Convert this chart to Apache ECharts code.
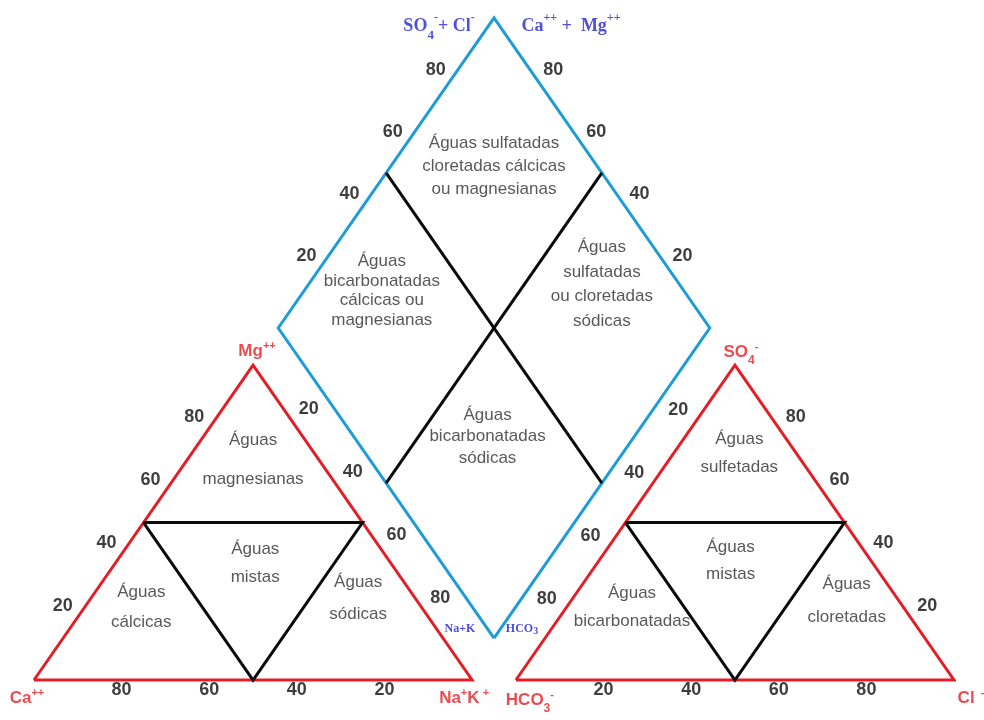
<!DOCTYPE html>
<html><head><meta charset="utf-8">
<script src="https://cdn.jsdelivr.net/npm/echarts@6/dist/echarts.min.js"></script>
<style>html,body{margin:0;padding:0;background:#fff}#c{width:984px;height:720px}</style>
</head><body><div id="c"></div>
<script>
// ================= DATA =================
const tickValues = [20, 40, 60, 80];
const classBoundary = 50; // % boundary of the classification fields

// Cation triangle field labels (ternary anchor: Ca, Mg, Na+K %)
const cationRegionNames = ['Águas\nmagnesianas', 'Águas\nmistas', 'Águas\ncálcicas', 'Águas\nsódicas'];
const cationRegionCa = [15, 31, 64, 13];
const cationRegionMg = [70, 37, 23, 26];
const cationRegionNa = [15, 32, 13, 61];

// Anion triangle field labels (ternary anchor: HCO3, SO4, Cl %)
const anionRegionNames = ['Águas\nsulfetadas', 'Águas\nmistas', 'Águas\nbicarbonatadas', 'Águas\ncloretadas'];
const anionRegionHCO3 = [13, 32, 62, 12];
const anionRegionSO4 = [72, 38, 23, 25];
const anionRegionCl = [15, 30, 15, 63];

// Diamond field labels (anchor: Ca+Mg %, SO4+Cl %)
const diamondRegionNames = [
  'Águas sulfatadas\ncloretadas cálcicas\nou magnesianas',
  'Águas\nbicarbonatadas\ncálcicas ou\nmagnesianas',
  'Águas\nsulfatadas\nou cloretadas\nsódicas',
  'Águas\nbicarbonatadas\nsódicas'
];
const diamondRegionCaMg = [76, 82, 32, 34];
const diamondRegionSO4Cl = [76, 30, 82, 31];

// Vertex names (rich text markup)
const cationVertexNames = ['{b|Ca}{sup|++}', '{b|Na}{sup|+}{b|K}{sup| +}', '{b|Mg}{sup|++}'];
const anionVertexNames = ['{b|HCO}{sub|3}{sup|-}', '{b|Cl}{sup|  -}', '{b|SO}{sub|4}{sup|-}'];
const diamondTopNames = ['{b|SO}{sub|4}{sup|-}{b|+ Cl}{sup|-}', '{b|Ca}{sup|++}{b| +  Mg}{sup|++}'];
const diamondBottomNames = ['{s|Na+K}', '{s|HCO}{ss|3}'];

// ================= GEOMETRY (layout) =================
const H = 50 * Math.sqrt(3);
const GAP = 10;
const D_BOTTOM = [105, 11.5];
const D_SCALE = 0.985;
function cat(ca, mg, na) { return [na + mg / 2, mg * H / 100]; }
function an(hco3, so4, cl) { return [100 + GAP + cl + so4 / 2, so4 * H / 100]; }
function dia(cm, sc) { return [D_BOTTOM[0] + (sc - cm) / 100 * 50 * D_SCALE, D_BOTTOM[1] + (cm + sc) / 100 * H * D_SCALE]; }

const RED = '#e41e26', BLUE = '#1e9bd9', BLACK = '#0a0a0a';
const B = classBoundary;

function lineSeries(points, color) {
  return { type: 'line', data: points, symbol: 'none', clip: false, silent: true, animation: false,
    lineStyle: { color: color, width: 3, join: 'miter' }, z: 2 };
}
function tickSeries(points, labels, offset) {
  return { type: 'scatter', symbolSize: 0, clip: false, silent: true, animation: false, z: 5,
    data: points.map((p, i) => ({ value: p, name: String(labels[i]) })),
    label: { show: true, position: 'inside', offset: offset, formatter: '{b}',
      fontFamily: 'Liberation Sans', fontWeight: 'bold', fontSize: 18, color: '#0d0d0d' } };
}
function regionSeries(points, names, lineHeights) {
  return { type: 'scatter', symbolSize: 0, clip: false, silent: true, animation: false, z: 5,
    data: points.map((p, i) => ({ value: p, name: names[i], label: { lineHeight: lineHeights[i] } })),
    label: { show: true, position: 'inside', formatter: '{b}', align: 'center',
      fontFamily: 'Liberation Sans', fontSize: 17, color: '#2e2e2e' } };
}
const redRich = {
  b: { fontFamily: 'Liberation Sans', fontWeight: 'bold', fontSize: 17, color: RED, lineHeight: 20, verticalAlign: 'bottom' },
  sup: { fontFamily: 'Liberation Sans', fontWeight: 'bold', fontSize: 11, color: RED, lineHeight: 20, verticalAlign: 'top' },
  sub: { fontFamily: 'Liberation Sans', fontWeight: 'bold', fontSize: 12, color: RED, lineHeight: 20, verticalAlign: 'bottom', padding: [0, 0, -6, 0] }
};
const blueRich = {
  b: { fontFamily: 'Liberation Serif', fontWeight: 'bold', fontSize: 18, color: '#2424d0', lineHeight: 24, verticalAlign: 'bottom' },
  sup: { fontFamily: 'Liberation Serif', fontWeight: 'bold', fontSize: 12, color: '#2424d0', lineHeight: 24, verticalAlign: 'top' },
  sub: { fontFamily: 'Liberation Serif', fontWeight: 'bold', fontSize: 13, color: '#2424d0', lineHeight: 24, verticalAlign: 'bottom', padding: [0, 0, -6, 0] },
  s: { fontFamily: 'Liberation Serif', fontWeight: 'bold', fontSize: 12, color: '#2020cc' },
  ss: { fontFamily: 'Liberation Serif', fontWeight: 'bold', fontSize: 10, color: '#2020cc', padding: [5, 0, 0, 0] }
};
function vertexSeries(points, names, offsets, rich) {
  return { type: 'scatter', symbolSize: 0, clip: false, silent: true, animation: false, z: 6,
    data: points.map((p, i) => ({ value: p, name: names[i], label: { offset: offsets[i] } })),
    label: { show: true, position: 'inside', formatter: '{b}', rich: rich } };
}

const series = [
  // outlines
  lineSeries([cat(100, 0, 0), cat(0, 0, 100), cat(0, 100, 0), cat(100, 0, 0)], RED),
  lineSeries([an(100, 0, 0), an(0, 0, 100), an(0, 100, 0), an(100, 0, 0)], RED),
  lineSeries([dia(0, 0), dia(100, 0), dia(100, 100), dia(0, 100), dia(0, 0)], BLUE),
  // classification lines
  lineSeries([cat(100 - B, B, 0), cat(0, B, 100 - B), cat(B, 0, 100 - B), cat(100 - B, B, 0)], BLACK),
  lineSeries([an(100 - B, B, 0), an(0, B, 100 - B), an(B, 0, 100 - B), an(100 - B, B, 0)], BLACK),
  lineSeries([dia(100, B), dia(0, B)], BLACK),
  lineSeries([dia(B, 100), dia(B, 0)], BLACK),
  // tick labels
  tickSeries(tickValues.map(v => cat(100 - v, v, 0)), tickValues, [-15, -11]),
  tickSeries(tickValues.map(v => cat(v, 0, 100 - v)), tickValues, [0, 10]),
  tickSeries(tickValues.map(v => cat(0, 100 - v, v)), tickValues, [12, -19]),
  tickSeries(tickValues.map(v => an(v, 100 - v, 0)), tickValues, [-13, -18]),
  tickSeries(tickValues.map(v => an(100 - v, 0, v)), tickValues, [0, 10]),
  tickSeries(tickValues.map(v => an(0, v, 100 - v)), tickValues, [17, -11]),
  tickSeries(tickValues.map(v => dia(100, v)), tickValues, [-15, -10]),
  tickSeries(tickValues.map(v => dia(v, 100)), tickValues, [16, -10]),
  // field labels
  regionSeries(cationRegionNames.map((n, i) => cat(cationRegionCa[i], cationRegionMg[i], cationRegionNa[i])), cationRegionNames, [39, 28, 30, 32]),
  regionSeries(anionRegionNames.map((n, i) => an(anionRegionHCO3[i], anionRegionSO4[i], anionRegionCl[i])), anionRegionNames, [28, 27, 28, 33]),
  regionSeries(diamondRegionNames.map((n, i) => dia(diamondRegionCaMg[i], diamondRegionSO4Cl[i])), diamondRegionNames, [23, 19.5, 24.5, 21.5]),
  // vertex names
  vertexSeries([cat(100, 0, 0), cat(0, 0, 100), cat(0, 100, 0)], cationVertexNames, [[-7, 17], [-8, 17], [4, -15]], redRich),
  vertexSeries([an(100, 0, 0), an(0, 0, 100), an(0, 100, 0)], anionVertexNames, [[14, 19], [17, 17], [6, -14]], redRich),
  vertexSeries([dia(100, 100), dia(100, 100)], diamondTopNames, [[-55, 6], [77, 6]], blueRich),
  vertexSeries([dia(0, 0), dia(0, 0)], diamondBottomNames, [[-34, -9], [28, -9]], blueRich)
];

const chart = echarts.init(document.getElementById('c'), null, { renderer: 'canvas' });
chart.setOption({
  animation: false,
  backgroundColor: '#ffffff',
  grid: { left: 34, right: 30, top: 0, bottom: 40 },
  xAxis: { type: 'value', min: 0, max: 210, show: false },
  yAxis: { type: 'value', min: 0, max: 187, show: false },
  series: series
});
</script>
</body></html>
